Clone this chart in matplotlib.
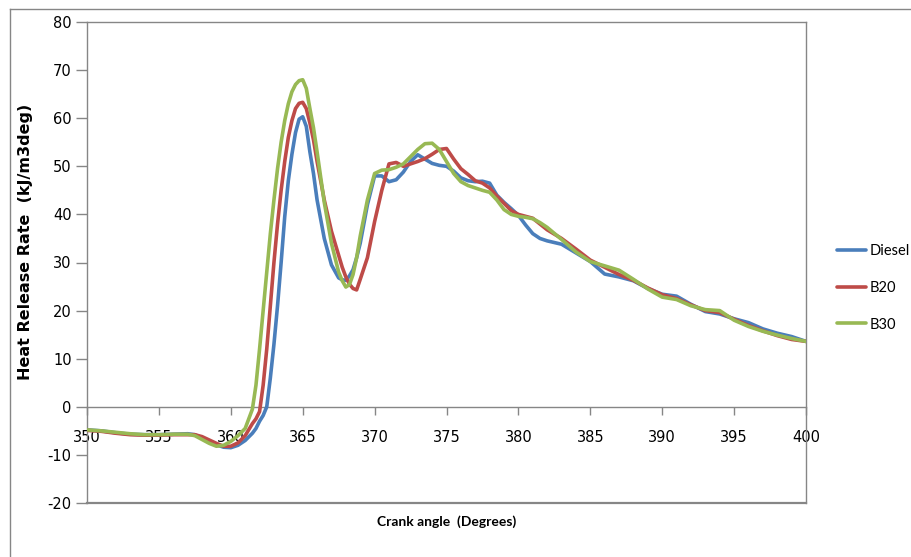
"""
Heat release rate vs crank angle for Diesel, B20 and B30.
"""

import matplotlib
matplotlib.use("Agg")
import matplotlib.pyplot as plt
from matplotlib.lines import Line2D


crank_angle = [350, 351, 352, 353, 354, 355, 356, 357,
               357.5, 358, 358.5, 359, 359.5, 360, 360.5, 361, 361.5, 361.75,
               362, 362.25, 362.5, 362.75, 363, 363.25, 363.5, 363.75,
               364, 364.25, 364.5, 364.75, 365, 365.25,
               365.5, 365.75, 366, 366.5, 367,
               367.5, 367.75, 368, 368.25, 368.5, 368.75, 369, 369.5, 370,
               370.5, 371, 371.5, 372,
               372.5, 373, 373.5, 374, 374.5, 375, 375.5, 376, 376.5, 377,
               377.5, 378, 378.5, 379, 379.5, 380, 380.5, 381, 381.5, 382,
               383, 384, 385, 386, 387, 388, 389, 390, 391, 392, 393, 394,
               395, 396, 397, 398, 399, 400]

diesel = [-4.8, -5.0, -5.4, -5.7, -5.8, -5.8, -5.7, -5.6,
          -5.8, -6.5, -7.3, -7.9, -8.4, -8.5, -8.0, -7.0, -5.5, -4.5,
          -3.0, -1.8, 0.0, 6, 13, 21, 30, 39.5,
          47, 52.5, 57, 59.8, 60.3, 58.3,
          53, 48.5, 43, 35, 29.5,
          26.8, 26.4, 26.3, 27.2, 28.5, 31, 34, 42, 48,
          48, 46.8, 47.2, 48.8,
          51, 52.4, 51.5, 50.6, 50.2, 50, 49, 47.6, 47.0, 46.8,
          46.9, 46.5, 44, 42.5, 41.2, 39.8, 37.8, 36, 35, 34.5,
          33.8, 32, 30.2, 27.6, 27, 26.2, 24.6, 23.4, 23.0, 21.3, 19.8, 19.3,
          18.3, 17.5, 16.2, 15.3, 14.6, 13.6]

b20 = [-4.9, -5.1, -5.5, -5.8, -5.9, -5.9, -5.8, -5.8,
       -5.8, -6.2, -6.9, -7.6, -8.2, -8.2, -7.5, -6.0, -3.5, -2.5,
       -1.0, 4.5, 12, 21, 30, 38, 45, 51,
       56, 59.5, 62, 63.1, 63.3, 62,
       59, 55.5, 51, 43, 36.5,
       31.5, 29, 27, 25.5, 24.6, 24.3, 26.5, 31, 38.5,
       45, 50.5, 50.8, 50,
       50.5, 51, 51.6, 52.5, 53.5, 53.7, 51.5, 49.5, 48.3, 47,
       46.5, 45.5, 43.8, 42.3, 40.8, 40, 39.6, 39.2, 38, 36.8,
       35, 32.8, 30.5, 29, 27.5, 26.3, 24.7, 23.3, 22.5, 21.2, 20, 19.6,
       18.2, 16.9, 15.8, 14.8, 14.0, 13.6]

b30 = [-4.8, -5.0, -5.3, -5.6, -5.8, -5.8, -5.7, -5.7,
       -6.0, -6.8, -7.6, -8.2, -8.0, -7.2, -6.0, -4.5, -0.5, 4.5,
       12, 20, 28, 36, 43, 49.5, 55, 59.5,
       63, 65.5, 67, 67.8, 68, 66.2,
       62, 58, 53, 42.5, 34,
       28, 26.2, 24.9, 25.4, 27.5, 31, 35.5, 43, 48.5,
       49.2, 49.3, 49.8, 50.5,
       52, 53.5, 54.7, 54.8, 53.5, 51, 48.5, 46.8, 46, 45.5,
       45, 44.6, 43, 41, 40, 39.6, 39.4, 39.1, 38.3, 37.3,
       34.8, 32.2, 30.2, 29.3, 28.4, 26.5, 24.5, 22.8, 22.3, 21.0, 20.2, 20.0,
       18.0, 16.7, 15.7, 14.9, 14.2, 13.6]

series_names = ["Diesel", "B20", "B30"]
series_colors = ["#4a7ebb", "#be4b48", "#98b954"]

x_ticks = [350, 355, 360, 365, 370, 375, 380, 385, 390, 395, 400]
y_ticks = [-20, -10, 0, 10, 20, 30, 40, 50, 60, 70, 80]

GRAY = "#868686"
NARROW = ["Lato", "DejaVu Sans"]

plt.rcParams["axes.unicode_minus"] = False

fig = plt.figure(figsize=(9.12, 5.57), dpi=100)

# outer chart frame (cut off at right and bottom like the screenshot)
fig.add_artist(Line2D([10 / 912, 10 / 912], [0, 1 - 9 / 557],
                      transform=fig.transFigure, color=GRAY, lw=1.0))
fig.add_artist(Line2D([10 / 912, 1], [1 - 9 / 557, 1 - 9 / 557],
                      transform=fig.transFigure, color=GRAY, lw=1.0))

ax = fig.add_axes([87 / 912, 54 / 557, 719 / 912, 481 / 557])

for values, name, color in zip([diesel, b20, b30], series_names, series_colors):
  ax.plot(crank_angle, values, color=color, lw=2.6, label=name,
          solid_joinstyle="round", solid_capstyle="round", zorder=3)

ax.set_xlim(350, 400)
ax.set_ylim(-20, 80)
ax.set_xticks(x_ticks)
ax.set_yticks(y_ticks)

for side in ["top", "right", "left", "bottom"]:
  ax.spines[side].set_color(GRAY)
  ax.spines[side].set_linewidth(1.0)
ax.spines["bottom"].set_position(("data", 0))
ax.axhline(-20, color=GRAY, lw=1.6, clip_on=False, zorder=2)

ax.tick_params(axis="y", direction="out", length=8, width=1.0, color=GRAY,
               pad=3, labelsize=10.5)
ax.tick_params(axis="x", direction="out", length=6, width=1.0, color=GRAY,
               pad=11, labelsize=10.5)
for lab in ax.get_xticklabels():
  lab.set_zorder(1)

ax.set_xlabel("Crank angle  (Degrees)", fontsize=10, fontweight="bold",
              family=NARROW)
ax.xaxis.set_label_coords(0.5, -0.025)
ax.set_ylabel("Heat Release Rate  (kJ/m3deg)", fontsize=11.5,
              fontweight="bold")
ax.yaxis.set_label_coords(-0.075, 0.543)

leg = ax.legend(loc="upper left", frameon=False,
                handlelength=2.0, handletextpad=0.25, labelspacing=1.55,
                prop={"size": 10.5, "family": NARROW})
leg.set_bbox_to_anchor((1.025, 0.565), transform=ax.transAxes)

fig.savefig("out.png", dpi=100)
